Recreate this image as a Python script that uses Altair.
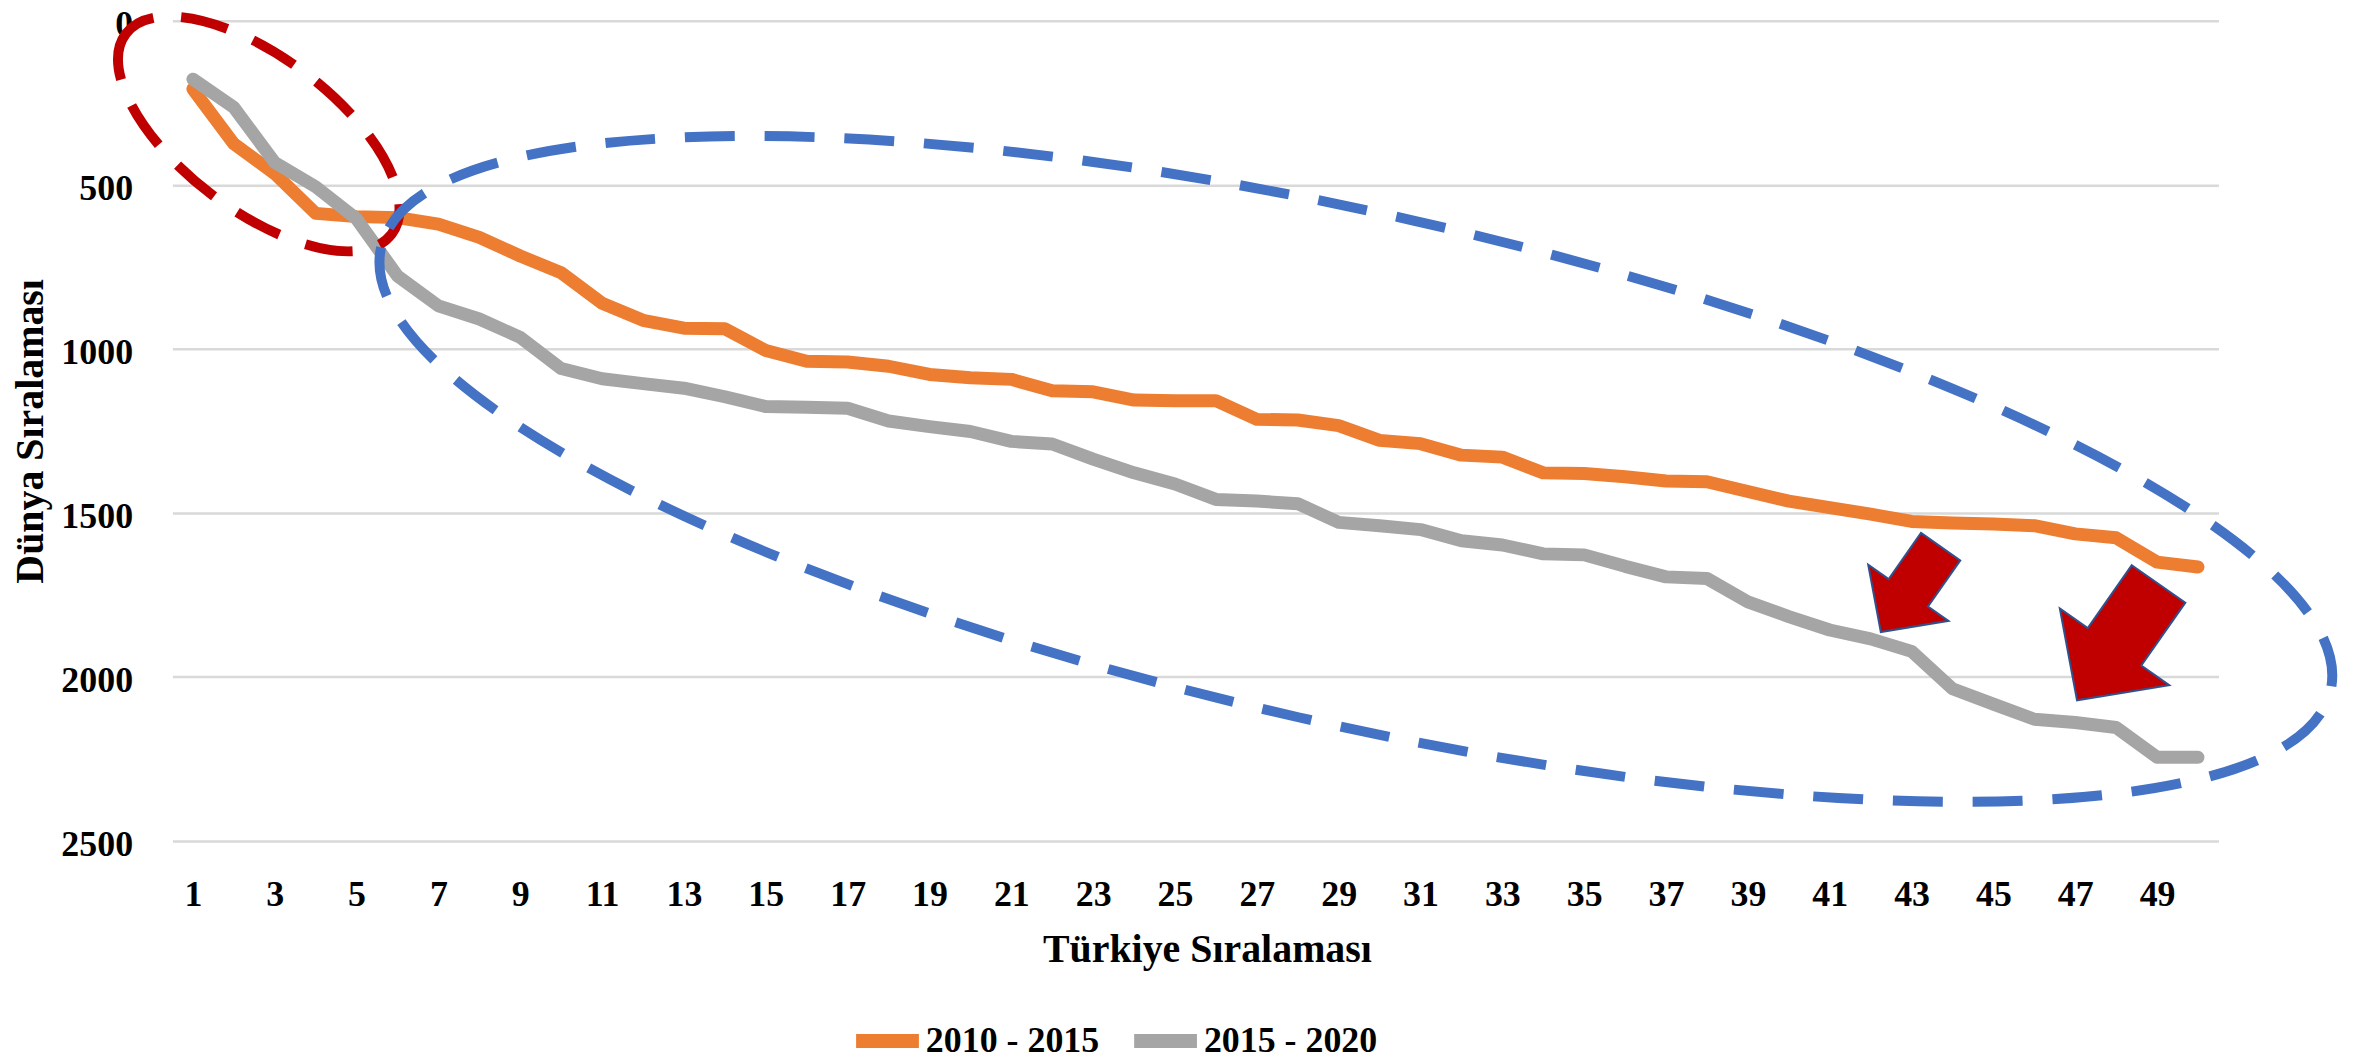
import altair as alt
import pandas as pd

# ---------------- data ----------------
ranks = list(range(1, 51))
series_names = ["2010 - 2015", "2015 - 2020"]
series_2010_2015 = [208, 375, 466, 587, 597, 600, 620, 660, 717, 768,
                    861, 913, 937, 939, 1005, 1038, 1040, 1053, 1078, 1088,
                    1093, 1128, 1131, 1156, 1158, 1158, 1215, 1217, 1234, 1279,
                    1289, 1324, 1330, 1378, 1380, 1390, 1403, 1405, 1435, 1464,
                    1484, 1504, 1526, 1531, 1534, 1539, 1564, 1576, 1650, 1665]
series_2015_2020 = [178, 264, 432, 506, 604, 778, 869, 909, 965, 1060,
                    1091, 1106, 1120, 1146, 1176, 1178, 1181, 1220, 1237, 1252,
                    1282, 1290, 1336, 1378, 1412, 1459, 1464, 1472, 1529, 1539,
                    1551, 1585, 1598, 1625, 1628, 1663, 1695, 1700, 1771, 1816,
                    1857, 1884, 1922, 2036, 2083, 2129, 2139, 2154, 2245, 2245]
x_tick_values = list(range(1, 50, 2))
y_tick_values = [0, 500, 1000, 1500, 2000, 2500]

# annotation anchors, in data coordinates (Türkiye rank, Dünya rank)
red_ellipse_rank = [2.61]
red_ellipse_value = [345]
blue_ellipse_rank = [29.42]
blue_ellipse_value = [1366]
small_arrow_rank = [42.98]
small_arrow_value = [1733]
big_arrow_rank = [48.04]
big_arrow_value = [1894]

# ---------------- tables ----------------
rows = []
for name, vals in zip(series_names, [series_2010_2015, series_2015_2020]):
    for r, v in zip(ranks, vals):
        rows.append({"rank": r, "value": v, "period": name})
df = pd.DataFrame(rows)

def anchor(xs, ys):
    return pd.DataFrame({"rank": xs, "value": ys})

FONT = "Liberation Serif"
ORANGE = "#ED7D31"
GRAY = "#A5A5A5"
BLUE = "#4472C4"
DARKRED = "#C00000"

x_scale = alt.Scale(domain=[0.5, 50.5], nice=False, zero=False)
y_scale = alt.Scale(domain=[0, 2500], reverse=True, nice=False, zero=False)

x_axis = alt.Axis(values=x_tick_values, title="Türkiye Sıralaması",
                  grid=False, domain=False, ticks=False,
                  labelPadding=37, titlePadding=17, titleX=1038,
                  labelFont=FONT, labelFontSize=36, labelFontWeight="bold",
                  labelColor="black", labelFlush=False, labelOverlap=False,
                  titleFont=FONT, titleFontSize=40, titleFontWeight="bold",
                  titleColor="black")
y_axis = alt.Axis(values=y_tick_values, title="Dünya Sıralaması", format="d",
                  grid=True, gridColor="#D9D9D9", gridWidth=2.5,
                  domain=False, ticks=False,
                  labelPadding=40, titlePadding=10, labelOffset=4,
                  labelFont=FONT, labelFontSize=36, labelFontWeight="bold",
                  labelColor="black", labelFlush=False,
                  titleFont=FONT, titleFontSize=40, titleFontWeight="bold",
                  titleColor="black")

lines = alt.Chart(df).mark_line(
    strokeWidth=13, strokeCap="round", strokeJoin="round"
).encode(
    x=alt.X("rank:Q", scale=x_scale, axis=x_axis),
    y=alt.Y("value:Q", scale=y_scale, axis=y_axis),
    color=alt.Color("period:N",
                    scale=alt.Scale(domain=series_names, range=[ORANGE, GRAY]),
                    legend=alt.Legend(title=None, orient="none", legendX=679, legendY=985,
                                      direction="horizontal", symbolType="stroke",
                                      symbolStrokeWidth=14, symbolSize=3969,
                                      labelFont=FONT, labelFontSize=36,
                                      labelFontWeight="bold", labelColor="black",
                                      labelLimit=0,
                                      columnPadding=7, labelOffset=0, padding=0)),
)

ELLIPSE_RED = "M -1 0 A 1 0.461 0 1 0 1 0 A 1 0.461 0 1 0 -1 0 Z"
ELLIPSE_BLUE = "M -1 0 A 1 0.255 0 1 0 1 0 A 1 0.255 0 1 0 -1 0 Z"
ARROW = "M -0.46 -1 L 0.46 -1 L 0.46 0.08 L 0.94 0.08 L 0 1 L -0.94 0.08 L -0.46 0.08 Z"

def anno(data, **mark):
    return alt.Chart(data).mark_point(opacity=1, **mark).encode(
        x=alt.X("rank:Q", scale=x_scale, axis=x_axis),
        y=alt.Y("value:Q", scale=y_scale, axis=y_axis),
    )

red_ellipse = anno(anchor(red_ellipse_rank, red_ellipse_value),
                   shape=ELLIPSE_RED, size=111556, angle=37, filled=False,
                   stroke=DARKRED, strokeWidth=10, strokeDash=[48, 28])
blue_ellipse = anno(anchor(blue_ellipse_rank, blue_ellipse_value),
                    shape=ELLIPSE_BLUE, size=4024036, angle=12.8, filled=False,
                    stroke=BLUE, strokeWidth=10, strokeDash=[50, 30])
small_arrow = anno(anchor(small_arrow_rank, small_arrow_value),
                   shape=ARROW, size=10941, angle=35, filled=True,
                   fill=DARKRED, stroke="#2F528F", strokeWidth=2)
big_arrow = anno(anchor(big_arrow_rank, big_arrow_value),
                 shape=ARROW, size=20335, angle=35, filled=True,
                 fill=DARKRED, stroke="#2F528F", strokeWidth=2)

chart = alt.layer(lines, red_ellipse, blue_ellipse, small_arrow, big_arrow).properties(
    width=2053, height=823,
    padding={"left": 165, "top": 11, "right": 135, "bottom": 225},
    autosize=alt.AutoSizeParams(type="none"),
    background="white",
).configure_view(stroke=None)

chart.save("out.html", embed_options={"renderer": "svg", "actions": False})
